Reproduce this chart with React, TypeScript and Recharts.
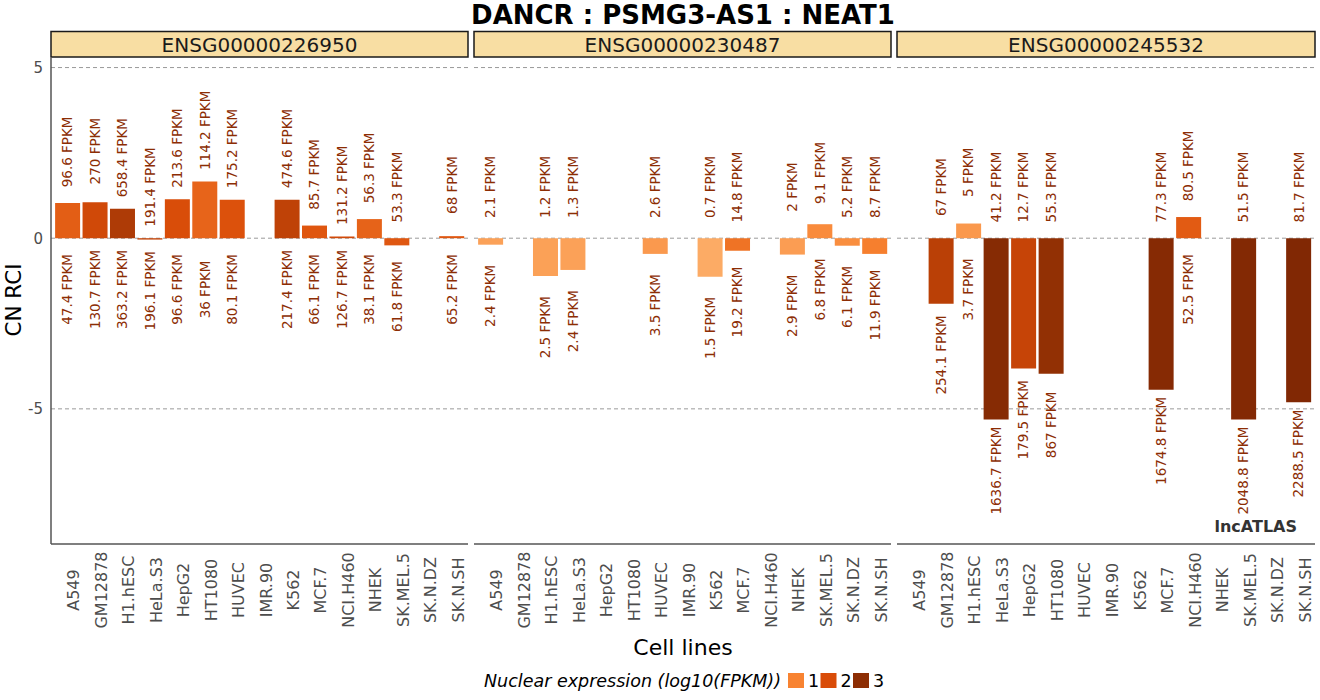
import React from 'react';
import { ComposedChart, Bar, Line, XAxis, YAxis, CartesianGrid, Cell } from 'recharts';

const cellLines = [
  'A549', 'GM12878', 'H1.hESC', 'HeLa.S3', 'HepG2', 'HT1080', 'HUVEC', 'IMR.90',
  'K562', 'MCF.7', 'NCI.H460', 'NHEK', 'SK.MEL.5', 'SK.N.DZ', 'SK.N.SH',
];

const geneIds = ['ENSG00000226950', 'ENSG00000230487', 'ENSG00000245532'];

// CN RCI per cell line (null = no data)
const rciDancr = [1.03, 1.05, 0.86, -0.04, 1.14, 1.66, 1.13, null, 1.13, 0.37, 0.05, 0.56, -0.21, null, 0.06];
const cytoDancr = [96.6, 270, 658.4, 191.4, 213.6, 114.2, 175.2, null, 474.6, 85.7, 131.2, 56.3, 53.3, null, 68];
const nucDancr = [47.4, 130.7, 363.2, 196.1, 96.6, 36, 80.1, null, 217.4, 66.1, 126.7, 38.1, 61.8, null, 65.2];

const rciPsmg = [-0.19, null, -1.11, -0.93, null, null, -0.46, null, -1.13, -0.37, null, -0.48, 0.41, -0.22, -0.46];
const cytoPsmg = [2.1, null, 1.2, 1.3, null, null, 2.6, null, 0.7, 14.8, null, 2, 9.1, 5.2, 8.7];
const nucPsmg = [2.4, null, 2.5, 2.4, null, null, 3.5, null, 1.5, 19.2, null, 2.9, 6.8, 6.1, 11.9];

const rciNeat = [null, -1.92, 0.43, -5.31, -3.82, -3.97, null, null, null, -4.44, 0.62, null, -5.31, null, -4.81];
const cytoNeat = [null, 67, 5, 41.2, 12.7, 55.3, null, null, null, 77.3, 80.5, null, 51.5, null, 81.7];
const nucNeat = [null, 254.1, 3.7, 1636.7, 179.5, 867, null, null, null, 1674.8, 52.5, null, 2048.8, null, 2288.5];

const yTicks = [-5, 0, 5];
const legendLevels = [1, 2, 3];

const FONT = '"DejaVu Sans", sans-serif';
const LABEL_COLOR = '#8c2d04';

// continuous fill by log10(nuclear FPKM)
const stops: [number, number[]][] = [
  [0, [253, 180, 112]],
  [1, [248, 131, 49]],
  [2, [217, 76, 8]],
  [3, [141, 46, 4]],
  [3.5, [125, 38, 4]],
];

function levelColor(v: number) {
  if (v <= stops[0][0]) return `rgb(${stops[0][1].join(',')})`;
  for (let i = 1; i < stops.length; i++) {
    const [v1, c1] = stops[i];
    const [v0, c0] = stops[i - 1];
    if (v <= v1) {
      const t = (v - v0) / (v1 - v0);
      const c = c0.map((a, k) => Math.round(a + (c1[k] - a) * t));
      return `rgb(${c.join(',')})`;
    }
  }
  return `rgb(${stops[stops.length - 1][1].join(',')})`;
}

const nucColor = (fpkm: number) => levelColor(Math.log10(fpkm));

function fpkmLabel(p: any, key: 'cyto' | 'nuc') {
  const { cx, cy, payload, index } = p;
  if (payload == null || payload[key] == null || cy == null || isNaN(cy)) return <g key={`e-${key}-${index}`} />;
  return (
    <text
      key={`${key}-${index}`}
      x={cx}
      y={cy}
      dy={5}
      transform={`rotate(-90 ${cx} ${cy})`}
      textAnchor="middle"
      fontSize={13.5}
      fontFamily={FONT}
      fill={LABEL_COLOR}
    >
      {`${payload[key]} FPKM`}
    </text>
  );
}

const CellTick = (p: any) => {
  const y = p.y + 46;
  return (
    <text
      x={p.x}
      y={y}
      dy={12}
      transform={`rotate(-90 ${p.x} ${y})`}
      textAnchor="middle"
      fontSize={16}
      fontFamily={FONT}
      fill="#4d4d4d"
    >
      {p.payload.value}
    </text>
  );
};

function Panel({ rci, cyto, nuc, width, showY }: any) {
  const data = cellLines.map((cell, i) => ({
    cell,
    rci: rci[i],
    cyto: cyto[i],
    nuc: nuc[i],
    topPos: rci[i] == null ? null : Math.max(rci[i], 0) + 1.5,
    botPos: rci[i] == null ? null : Math.min(rci[i], 0) - 1.5,
  }));
  return (
    <ComposedChart
      width={width}
      height={576}
      data={data}
      margin={{ top: 0, right: 0, bottom: 0, left: 0 }}
      barCategoryGap="5%"
    >
      <CartesianGrid vertical={false} horizontalValues={yTicks} stroke="#9a9a9a" strokeDasharray="4 3" />
      <XAxis
        dataKey="cell"
        interval={0}
        tickLine={false}
        tickSize={0}
        tickMargin={0}
        height={90}
        padding={{ left: 2.74, right: 2.74 }}
        axisLine={{ stroke: '#555', strokeWidth: 1.5 }}
        tick={CellTick}
      />
      <YAxis
        hide={!showY}
        width={51}
        type="number"
        domain={[-8.96, 5.28]}
        ticks={yTicks}
        tickLine={false}
        axisLine={{ stroke: '#555', strokeWidth: 1.5 }}
        tick={{ fill: '#4d4d4d', fontSize: 15, fontFamily: FONT }}
      />
      <Bar dataKey="rci" isAnimationActive={false}>
        {data.map((d, i) => (
          <Cell key={i} fill={d.nuc == null ? 'none' : nucColor(d.nuc)} />
        ))}
      </Bar>
      <Line
        dataKey="topPos"
        stroke="none"
        isAnimationActive={false}
        activeDot={false}
        legendType="none"
        dot={(p: any) => fpkmLabel(p, 'cyto')}
      />
      <Line
        dataKey="botPos"
        stroke="none"
        isAnimationActive={false}
        activeDot={false}
        legendType="none"
        dot={(p: any) => fpkmLabel(p, 'nuc')}
      />
    </ComposedChart>
  );
}

const panels = [
  { rci: rciDancr, cyto: cytoDancr, nuc: nucDancr, left: 0, width: 468, plotLeft: 51, showY: true },
  { rci: rciPsmg, cyto: cytoPsmg, nuc: nucPsmg, left: 474, width: 417, plotLeft: 474, showY: false },
  { rci: rciNeat, cyto: cytoNeat, nuc: nucNeat, left: 897, width: 418, plotLeft: 897, showY: false },
];

export default function App() {
  return (
    <div style={{ position: 'absolute', left: 0, top: 0, width: 1320, height: 700, background: '#fff', fontFamily: FONT }}>
      <svg width={1320} height={700} style={{ position: 'absolute', left: 0, top: 0 }}>
        <text x={683} y={24} textAnchor="middle" fontSize={26} fontWeight="bold" fill="#000" fontFamily={FONT}>
          DANCR : PSMG3-AS1 : NEAT1
        </text>
        {panels.map((p, i) => {
          const w = p.width - (p.showY ? 51 : 0);
          return (
            <g key={i}>
              <rect x={p.plotLeft} y={31.5} width={w} height={25.5} fill="#f8dea3" stroke="#1a1a1a" strokeWidth={1.5} />
              <text x={p.plotLeft + w / 2} y={51.5} textAnchor="middle" fontSize={20} fill="#1a1a1a" fontFamily={FONT}>
                {geneIds[i]}
              </text>
            </g>
          );
        })}
        <text x={21} y={300} transform="rotate(-90 21 300)" textAnchor="middle" fontSize={21.5} fill="#000" fontFamily={FONT}>
          CN RCI
        </text>
        <text x={683} y={655} textAnchor="middle" fontSize={22} fill="#000" fontFamily={FONT}>
          Cell lines
        </text>
        <text x={484} y={687} fontSize={17.5} fontStyle="italic" fill="#000" fontFamily={FONT}>
          Nuclear expression (log10(FPKM))
        </text>
        {legendLevels.map((lv, i) => (
          <g key={lv}>
            <rect x={788 + i * 32.5} y={673} width={16} height={15} fill={levelColor(lv)} />
            <text x={808 + i * 32.5} y={687} fontSize={17.5} fill="#000" fontFamily={FONT}>
              {lv}
            </text>
          </g>
        ))}
      </svg>
      {panels.map((p, i) => (
        <div key={i} style={{ position: 'absolute', left: p.left, top: 58 }}>
          <Panel rci={p.rci} cyto={p.cyto} nuc={p.nuc} width={p.width} showY={p.showY} />
        </div>
      ))}
      <svg width={1320} height={700} style={{ position: 'absolute', left: 0, top: 0, pointerEvents: 'none' }}>
        <text x={1297} y={532} textAnchor="end" fontSize={16} fontWeight="bold" fill="#333" fontFamily={FONT}>
          lncATLAS
        </text>
      </svg>
    </div>
  );
}
